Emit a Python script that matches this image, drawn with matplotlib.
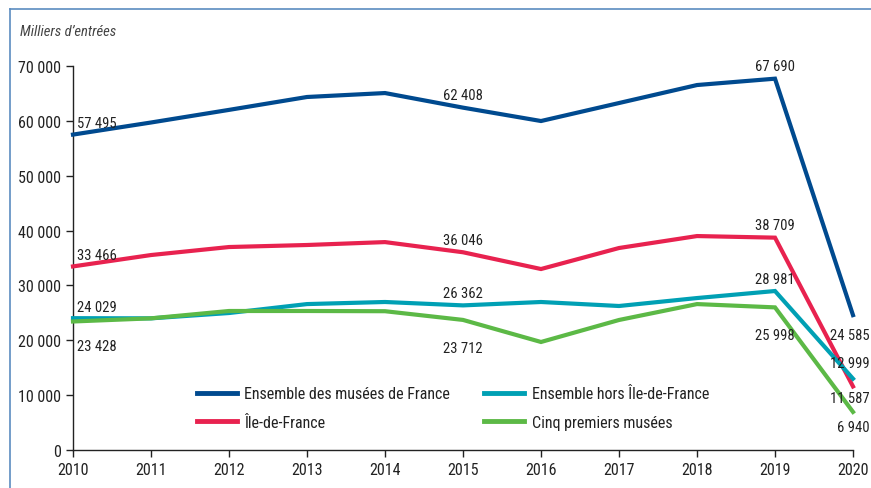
import numpy as np
import matplotlib.pyplot as plt
from matplotlib.lines import Line2D
from matplotlib import font_manager

# Données (milliers d'entrées)
annees = [2010, 2011, 2012, 2013, 2014, 2015, 2016, 2017, 2018, 2019, 2020]
ensemble = [57495, 59700, 62000, 64350, 65070, 62408, 59970, 63250, 66530, 67690, 24585]
ile_de_france = [33466, 35540, 37000, 37370, 37900, 36046, 32990, 36820, 39000, 38709, 11587]
hors_idf = [24029, 24000, 24970, 26600, 26980, 26362, 26980, 26250, 27700, 28981, 12999]
cinq_premiers = [23428, 24000, 25340, 25340, 25300, 23712, 19690, 23700, 26600, 25998, 6940]

noms = ["Ensemble des musées de France", "Île-de-France",
        "Ensemble hors Île-de-France", "Cinq premiers musées"]
couleurs = ["#004a8f", "#e8224f", "#00a0b4", "#5cb946"]

def fmt(v):
    return f"{v:,}".replace(",", " ")

# Police étroite si disponible
noms_polices = {f.name for f in font_manager.fontManager.ttflist}
etroites = [n for n in ['Liberation Sans Narrow', 'Roboto Condensed', 'Open Sans Condensed']
            if n in noms_polices]
plt.rcParams['font.family'] = etroites + ['DejaVu Sans']
if not etroites:
    plt.rcParams['font.stretch'] = 'condensed'

fig = plt.figure(figsize=(8.71, 4.89), dpi=100)
ax = fig.add_axes([73/871, 38/489, 780/871, 384/489])

series = [ensemble, ile_de_france, hors_idf, cinq_premiers]
for vals, c in zip(series, couleurs):
    ax.plot(annees, vals, color=c, lw=3, solid_joinstyle='miter', clip_on=False, zorder=3)

ax.set_xlim(2010, 2020)
ax.set_ylim(0, 70000)
ax.set_xticks(annees)
ax.set_yticks(range(0, 70001, 10000))
ax.set_yticklabels([fmt(v) for v in range(0, 70001, 10000)])
ax.tick_params(axis='both', labelsize=11.5, colors='#222222', length=5, width=1)
ax.tick_params(axis='y', pad=4)
ax.tick_params(axis='x', pad=4)
for s in ['top', 'right']:
    ax.spines[s].set_visible(False)
for s in ['left', 'bottom']:
    ax.spines[s].set_color('#222222')
    ax.spines[s].set_linewidth(1)

# Étiquettes de valeurs : (série, index, décalage x, décalage y, alignement)
etiquettes = [
    (ensemble, 0, 3, 8, 'left'), (ensemble, 5, 0, 9, 'center'),
    (ensemble, 9, 0, 9, 'center'), (ensemble, 10, 12, -14, 'right'),
    (ile_de_france, 0, 3, 8, 'left'), (ile_de_france, 5, 0, 9, 'center'),
    (ile_de_france, 9, 0, 9, 'center'), (ile_de_france, 10, 12, -8, 'right'),
    (hors_idf, 0, 3, 8, 'left'), (hors_idf, 5, 0, 9, 'center'),
    (hors_idf, 9, 0, 9, 'center'), (hors_idf, 10, 12, 11, 'right'),
    (cinq_premiers, 0, 3, -18, 'left'), (cinq_premiers, 5, 0, -20, 'center'),
    (cinq_premiers, 9, 0, -20, 'center'), (cinq_premiers, 10, 12, -11, 'right'),
]
for vals, i, dx, dy, ha in etiquettes:
    ax.annotate(fmt(vals[i]), (annees[i], vals[i]), xytext=(dx, dy),
                textcoords='offset points', ha=ha, va='center',
                fontsize=10.5, color='#222222', annotation_clip=False, zorder=5)

poignees = [Line2D([], [], color=c, lw=3.5) for c in couleurs]
leg = ax.legend(poignees, noms, ncol=2, loc='lower left',
                bbox_to_anchor=(0.14, 0.015), frameon=False, fontsize=11.5,
                handlelength=2.5, columnspacing=2.1, handletextpad=0.5,
                labelspacing=0.85)
for t in leg.get_texts():
    t.set_color('#222222')

fig.text(20/871, 1 - 32/489, "Milliers d\u2019entrées", fontsize=10.5,
         style='italic', color='#444444', va='center', ha='left')

# Cadre bleu
fig.add_artist(Line2D([10/871, 1], [1 - 10/489, 1 - 10/489],
                      transform=fig.transFigure, color='#5b8cc0', lw=1.2))
fig.add_artist(Line2D([10/871, 10/871], [0, 1 - 10/489],
                      transform=fig.transFigure, color='#5b8cc0', lw=1.2))

fig.savefig("out.png", dpi=100)
